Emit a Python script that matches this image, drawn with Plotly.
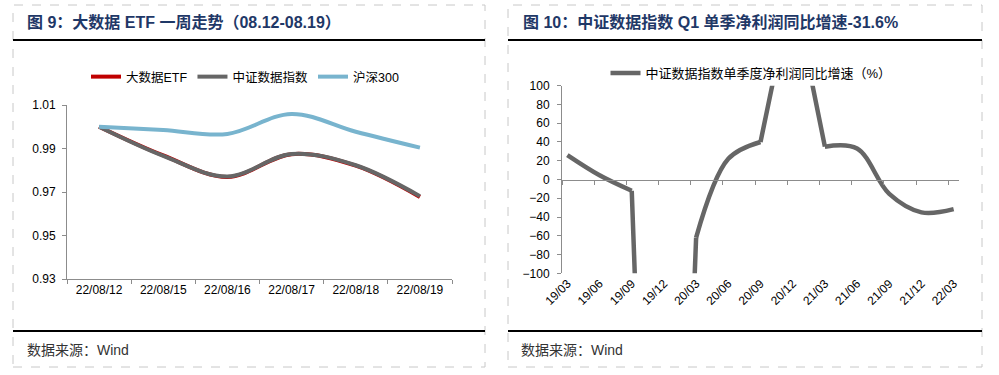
import plotly.graph_objects as go

# ---------------- data ----------------
# Left chart: 大数据ETF 一周走势
days = ["22/08/12", "22/08/15", "22/08/16", "22/08/17", "22/08/18", "22/08/19"]
etf = [1.000, 0.9868, 0.9769, 0.9874, 0.9821, 0.9677]
csi_data = [1.000, 0.9866, 0.9771, 0.9875, 0.9823, 0.9681]
hs300 = [1.000, 0.9985, 0.9967, 1.0059, 0.9977, 0.9904]

# Right chart: 中证数据指数单季度净利润同比增速（%）
quarters = ["19/03", "19/06", "19/09", "19/12", "20/03", "20/06", "20/09",
            "20/12", "21/03", "21/06", "21/09", "21/12", "22/03"]
profit_yoy = [26, 4.5, -12, -950, -62, 22, 40, 205, 35, 33, -15.4, -35, -31.6]

y_ticks_left = [0.93, 0.95, 0.97, 0.99, 1.01]
y_ticks_right = list(range(-100, 101, 20))

# ---------------- helpers ----------------
W, H = 999, 375
def px(x):
    return x / W
def py(y):
    return 1 - y / H

FONT = "Liberation Sans, Arial, Noto Sans CJK SC, sans-serif"
AXIS_GRAY = "#8C8C8C"

fig = go.Figure()

# ---- left chart traces ----
fig.add_trace(go.Scatter(x=days, y=etf, name="大数据ETF", mode="lines",
                         line=dict(color="#C00000", width=4, shape="spline"),
                         xaxis="x", yaxis="y", legend="legend"))
fig.add_trace(go.Scatter(x=days, y=csi_data, name="中证数据指数", mode="lines",
                         line=dict(color="#666666", width=4, shape="spline"),
                         xaxis="x", yaxis="y", legend="legend"))
fig.add_trace(go.Scatter(x=days, y=hs300, name="沪深300", mode="lines",
                         line=dict(color="#78B4CE", width=4, shape="spline"),
                         xaxis="x", yaxis="y", legend="legend"))

# ---- right chart traces ----
# month-based positions: each quarter label sits mid-month, ticks at month starts
xq = [3 * i + 0.5 for i in range(len(quarters))]
x_month_starts = [3 * i for i in range(len(quarters))]
x_range = [0, 3 * (len(quarters) - 1) + 1]

LIM = 100
smooth_y = [v if abs(v) <= LIM else None for v in profit_yoy]
jump_x, jump_y = [], []
for i, v in enumerate(profit_yoy):
    if abs(v) > LIM:
        for j in (i - 1, i, i + 1):
            if 0 <= j < len(profit_yoy):
                jump_x.append(xq[j])
                jump_y.append(profit_yoy[j])
        jump_x.append(None)
        jump_y.append(None)

fig.add_trace(go.Scatter(x=xq, y=smooth_y, name="中证数据指数单季度净利润同比增速（%）",
                         mode="lines", connectgaps=False,
                         line=dict(color="#666666", width=4.5, shape="spline"),
                         xaxis="x2", yaxis="y2", legend="legend2"))
fig.add_trace(go.Scatter(x=jump_x, y=jump_y, mode="lines", showlegend=False,
                         line=dict(color="#666666", width=4.5),
                         hoverinfo="skip", xaxis="x3", yaxis="y2"))

# ---------------- layout ----------------
tickfont = dict(family=FONT, size=12, color="#000000")

left_ydom = [py(279), py(105)]
right_ydom = [py(273.3), py(85.7)]
zero_pos = right_ydom[0] + (right_ydom[1] - right_ydom[0]) * (0 - (-100)) / 200

fig.update_layout(
    template="none",
    width=W, height=H,
    margin=dict(l=0, r=0, t=0, b=0, pad=0, autoexpand=False),
    paper_bgcolor="white", plot_bgcolor="white",
    font=dict(family=FONT, size=12, color="#000000"),
    hovermode=False,
    xaxis=dict(domain=[px(67), px(452)], type="category", anchor="y",
               range=[-0.5, len(days) - 0.5], automargin=False,
               showline=True, linecolor=AXIS_GRAY, linewidth=1,
               ticks="outside", ticklen=4, tickcolor=AXIS_GRAY, tickson="boundaries",
               showgrid=False, zeroline=False, tickfont=tickfont, fixedrange=True),
    yaxis=dict(domain=left_ydom, anchor="x", range=[0.93, 1.01], automargin=False,
               tickvals=y_ticks_left, tickformat=".2f",
               showline=True, linecolor=AXIS_GRAY, linewidth=1,
               ticks="outside", ticklen=4, tickcolor=AXIS_GRAY,
               ticklabelstandoff=4,
               showgrid=False, zeroline=False, tickfont=tickfont),
    xaxis2=dict(domain=[px(562), px(959)], anchor="y2", range=x_range, automargin=False,
                tickvals=xq, ticktext=quarters, tickangle=-45,
                showline=False, ticks="", showgrid=False, zeroline=False,
                tickfont=tickfont),
    xaxis3=dict(overlaying="x2", anchor="free", position=zero_pos, range=x_range,
                automargin=False,
                tickvals=x_month_starts, showticklabels=False,
                showline=True, linecolor=AXIS_GRAY, linewidth=1,
                ticks="outside", ticklen=4, tickcolor=AXIS_GRAY,
                showgrid=False, zeroline=False),
    yaxis2=dict(domain=right_ydom, anchor="x2", range=[-100, 100], automargin=False,
                tickvals=y_ticks_right,
                showline=True, linecolor=AXIS_GRAY, linewidth=1,
                ticks="outside", ticklen=4, tickcolor=AXIS_GRAY,
                ticklabelstandoff=5,
                showgrid=False, zeroline=False, tickfont=tickfont),
    legend=dict(orientation="h", x=px(245), y=py(77), xanchor="center", yanchor="middle",
                font=dict(family=FONT, size=12.5, color="#000000"),
                bgcolor="rgba(0,0,0,0)", itemwidth=30, tracegroupgap=0),
    legend2=dict(orientation="h", x=px(751), y=py(73), xanchor="center", yanchor="middle",
                 font=dict(family=FONT, size=13, color="#000000"),
                 bgcolor="rgba(0,0,0,0)", itemwidth=30),
    showlegend=True,
)

# ---------------- decorations ----------------
shapes = []
for x0, x1 in ((13, 485), (508, 982)):
    shapes.append(dict(type="rect", xref="paper", yref="paper",
                       x0=px(x0), x1=px(x1), y0=py(367), y1=py(5),
                       line=dict(color="#C8C8C8", width=1, dash="dash")))
    for yy in (40, 331):
        shapes.append(dict(type="line", xref="paper", yref="paper",
                           x0=px(x0), x1=px(x1), y0=py(yy), y1=py(yy),
                           line=dict(color="#000000", width=2)))
fig.update_layout(shapes=shapes)

TITLE_COLOR = "#1F3867"
annotations = [
    dict(text="<b>图 9：大数据 ETF 一周走势（08.12-08.19）</b>", x=px(25), y=py(22),
         xref="paper", yref="paper", xanchor="left", yanchor="middle", showarrow=False,
         font=dict(family=FONT, size=16, color=TITLE_COLOR)),
    dict(text="<b>图 10：中证数据指数 Q1 单季净利润同比增速-31.6%</b>", x=px(521), y=py(22),
         xref="paper", yref="paper", xanchor="left", yanchor="middle", showarrow=False,
         font=dict(family=FONT, size=16, color=TITLE_COLOR)),
    dict(text="数据来源：Wind", x=px(25), y=py(350),
         xref="paper", yref="paper", xanchor="left", yanchor="middle", showarrow=False,
         font=dict(family=FONT, size=14, color="#333333")),
    dict(text="数据来源：Wind", x=px(519), y=py(350),
         xref="paper", yref="paper", xanchor="left", yanchor="middle", showarrow=False,
         font=dict(family=FONT, size=14, color="#333333")),
]
fig.update_layout(annotations=annotations)

fig.write_html("out.html",
               config={"displayModeBar": False, "staticPlot": True},
               post_script="document.body.style.margin='0';document.body.style.overflow='hidden';")
